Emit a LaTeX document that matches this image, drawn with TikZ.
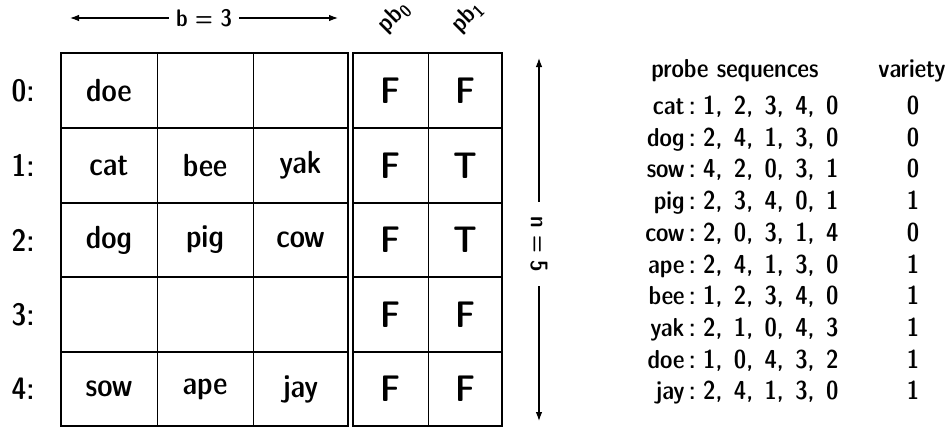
\documentclass[tikz,border=0pt]{standalone}
\usepackage{fontspec}
\usetikzlibrary{arrows.meta}
% Latin Modern Sans, demi condensed
\newfontfamily\sdc{lmsansdemicond10-regular.otf}
\newcommand{\fsz}[1]{\fontsize{#1}{#1}\selectfont}
\newcommand{\widesp}{\spaceskip=11.5pt\relax}

\begin{document}
\begin{tikzpicture}[x=1pt,y=-1pt,
  thickline/.style={line width=2.2pt},
  thinline/.style={line width=0.9pt},
  cell/.style={font=\sdc\fsz{32}, inner sep=0pt},
  flag/.style={font=\sdc\fsz{37}, inner sep=0pt},
  rowlab/.style={font=\sdc\fsz{31}, inner sep=0pt},
  dimlab/.style={font=\sdc\fsz{24}, inner sep=7pt},
  pblab/.style={font=\sdc\fsz{25}, inner sep=0pt, rotate=45},
  listtxt/.style={font=\sdc\fsz{26}, inner sep=0pt, text height=18pt, text depth=5pt},
  seqtxt/.style={listtxt, font=\sdc\fsz{26}\widesp},
  arr/.style={-{Latex[length=9pt,width=6.5pt]}, line width=1.1pt}]
\useasboundingbox (0,0) rectangle (951,431);

% ---- bucket table (3 slots per bucket) ----
\foreach \y in {128,203,277,352}
  \draw[thickline] (61,\y) -- (348,\y);
\foreach \x in {157,253}
  \draw[thinline] (\x,53) -- (\x,426);
\draw[thickline] (61,53) rectangle (348,426);

% ---- probe bit table ----
\foreach \y in {128,203,277,352}
  \draw[thickline] (353,\y) -- (502,\y);
\draw[thinline] (428,53) -- (428,426);
\draw[thickline] (353,53) rectangle (502,426);

% row indices
\node[rowlab] (r0) at (23,90.5)  {0:};
\node[rowlab] (r1) at (23,165.5) {1:};
\node[rowlab] (r2) at (23,240)   {2:};
\node[rowlab] (r3) at (23,314.5) {3:};
\node[rowlab] (r4) at (23,389)   {4:};

% bucket contents
\node[cell] (k00) at (109,90.5)  {doe};
\node[cell] (k10) at (109,165.5) {cat};
\node[cell] (k11) at (205,165.5) {bee};
\node[cell] (k12) at (300.5,165.5) {yak};
\node[cell] (k20) at (109,240)   {dog};
\node[cell] (k21) at (205,240)   {pig};
\node[cell] (k22) at (300.5,240) {cow};
\node[cell] (k40) at (109,389)   {sow};
\node[cell] (k41) at (205,389)   {ape};
\node[cell] (k42) at (300.5,389) {jay};

% probe bits
\node[flag] (p00) at (390.5,90.5)  {F};
\node[flag] (p01) at (465,90.5)    {F};
\node[flag] (p10) at (390.5,165.5) {F};
\node[flag] (p11) at (465,165.5)   {T};
\node[flag] (p20) at (390.5,240)   {F};
\node[flag] (p21) at (465,240)     {T};
\node[flag] (p30) at (390.5,314.5) {F};
\node[flag] (p31) at (465,314.5)   {F};
\node[flag] (p40) at (390.5,389)   {F};
\node[flag] (p41) at (465,389)     {F};

% column headers of the bit table
\node[pblab] (pb0) at (394,17) {pb\textsubscript{0}};
\node[pblab] (pb1) at (467,17) {pb\textsubscript{1}};

% bucket size
\node[dimlab] (bsz) at (204,18) {b = 3};
\coordinate (bL) at (70,18);
\coordinate (bR) at (338,18);
\draw[arr] (bsz) -- (bL);
\draw[arr] (bsz) -- (bR);

% table size
\node[dimlab, rotate=-90, inner sep=14pt] (nsz) at (539,244) {n = 5};
\coordinate (nT) at (539,58);
\coordinate (nB) at (539,421);
\draw[arr] (nsz) -- (nT);
\draw[arr] (nsz) -- (nB);

% probe sequence listing
\node[listtxt] (hseq) at (735,71) {probe sequences};
\node[listtxt] (hvar) at (912,71) {variety};
\foreach \w/\s/\v [count=\i from 0] in
  {cat/{1, 2, 3, 4, 0}/0, dog/{2, 4, 1, 3, 0}/0, sow/{4, 2, 0, 3, 1}/0,
   pig/{2, 3, 4, 0, 1}/1, cow/{2, 0, 3, 1, 4}/0, ape/{2, 4, 1, 3, 0}/1,
   bee/{1, 2, 3, 4, 0}/1, yak/{2, 1, 0, 4, 3}/1, doe/{1, 0, 4, 3, 2}/1,
   jay/{2, 4, 1, 3, 0}/1}
{
  \node[listtxt, anchor=east] (w\i) at (696,108+31.7*\i) {\w\,:};
  \node[seqtxt, anchor=west] (s\i) at (703,108+31.7*\i) {\s};
  \node[listtxt] (v\i) at (913,108+31.7*\i) {\v};
}
\end{tikzpicture}
\end{document}
